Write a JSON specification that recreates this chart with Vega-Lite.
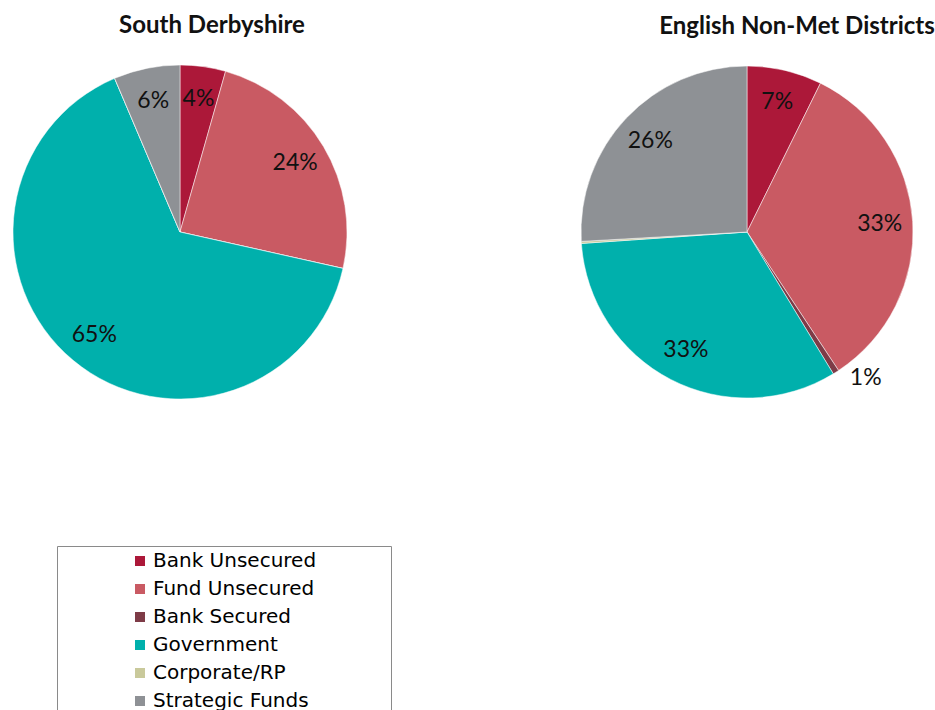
{
  "$schema": "https://vega.github.io/schema/vega-lite/v6.json",
  "background": "white",
  "padding": {"left": 0, "top": 14, "right": 0, "bottom": 0},
  "datasets": {
    "alloc": [
      {"area": "South Derbyshire", "type": "Bank Unsecured", "k": 1, "share": 0.044},
      {"area": "South Derbyshire", "type": "Fund Unsecured", "k": 2, "share": 0.241},
      {"area": "South Derbyshire", "type": "Bank Secured", "k": 3, "share": 0.0},
      {"area": "South Derbyshire", "type": "Government", "k": 4, "share": 0.651},
      {"area": "South Derbyshire", "type": "Corporate/RP", "k": 5, "share": 0.0},
      {"area": "South Derbyshire", "type": "Strategic Funds", "k": 6, "share": 0.064},
      {"area": "English Non-Met Districts", "type": "Bank Unsecured", "k": 1, "share": 0.073},
      {"area": "English Non-Met Districts", "type": "Fund Unsecured", "k": 2, "share": 0.334},
      {"area": "English Non-Met Districts", "type": "Bank Secured", "k": 3, "share": 0.006},
      {"area": "English Non-Met Districts", "type": "Government", "k": 4, "share": 0.326},
      {"area": "English Non-Met Districts", "type": "Corporate/RP", "k": 5, "share": 0.002},
      {"area": "English Non-Met Districts", "type": "Strategic Funds", "k": 6, "share": 0.259}
    ]
  },
  "config": {
    "view": {"stroke": null},
    "title": {"font": "Lato", "fontSize": 24, "fontWeight": "bold", "color": "#111", "baseline": "bottom", "offset": 26, "anchor": "middle"}
  },
  "spacing": 207,
  "resolve": {"scale": {"color": "shared", "theta": "independent"}},
  "hconcat": [
    {
      "width": 360,
      "height": 334,
      "title": {"text": "South Derbyshire", "dx": 32},
      "data": {"name": "alloc"},
      "transform": [
        {"filter": "datum.area === 'South Derbyshire'"},
        {"stack": "share", "groupby": [], "sort": [{"field": "k", "order": "ascending"}], "as": ["s0", "s1"]},
        {"calculate": "(datum.s0 + datum.s1) / 2", "as": "mid"},
        {"calculate": "format(datum.share, '.0%')", "as": "lbl"}
      ],
      "layer": [
        {
          "mark": {"type": "arc", "outerRadius": 167, "stroke": "white", "strokeWidth": 0.5},
          "encoding": {
            "theta": {"field": "s0", "type": "quantitative", "scale": {"domain": [0, 1]}},
            "theta2": {"field": "s1"},
            "color": {
              "field": "type", "type": "nominal",
              "scale": {
                "domain": ["Bank Unsecured", "Fund Unsecured", "Bank Secured", "Government", "Corporate/RP", "Strategic Funds"],
                "range": ["#AC1839", "#C95A63", "#7E3B47", "#00B0AC", "#C9C99B", "#8E9195"]
              },
              "legend": {
                "orient": "none", "legendX": 57, "legendY": 481,
                "title": "\u00a0", "titleOrient": "right", "titlePadding": 70, "titleFontSize": 4,
                "symbolType": "square", "symbolSize": 100, "symbolStrokeWidth": 0,
                "labelFont": "DejaVu Sans", "labelFontSize": 20, "labelColor": "#000", "labelLimit": 400,
                "labelOffset": 3, "rowPadding": 8, "padding": 5, "symbolOffset": 68,
                "strokeColor": "#8a8a8a", "fillColor": "white"
              }
            }
          }
        },
        {
          "transform": [{"filter": "datum.share >= 0.02"}],
          "mark": {"type": "text", "radius": 134, "font": "Lato", "fontSize": 23, "color": "#111"},
          "encoding": {
            "theta": {"field": "mid", "type": "quantitative", "scale": {"domain": [0, 1]}},
            "text": {"field": "lbl"}
          }
        }
      ]
    },
    {
      "width": 360,
      "height": 334,
      "title": {"text": "English Non-Met Districts", "dx": 50},
      "data": {"name": "alloc"},
      "transform": [
        {"filter": "datum.area === 'English Non-Met Districts'"},
        {"stack": "share", "groupby": [], "sort": [{"field": "k", "order": "ascending"}], "as": ["s0", "s1"]},
        {"calculate": "(datum.s0 + datum.s1) / 2", "as": "mid"},
        {"calculate": "format(datum.share, '.0%')", "as": "lbl"}
      ],
      "layer": [
        {
          "mark": {"type": "arc", "outerRadius": 166, "stroke": "white", "strokeWidth": 0.5},
          "encoding": {
            "theta": {"field": "s0", "type": "quantitative", "scale": {"domain": [0, 1]}},
            "theta2": {"field": "s1"},
            "color": {"field": "type", "type": "nominal"}
          }
        },
        {
          "transform": [{"filter": "datum.share >= 0.02"}],
          "mark": {"type": "text", "radius": 133, "font": "Lato", "fontSize": 23, "color": "#111"},
          "encoding": {
            "theta": {"field": "mid", "type": "quantitative", "scale": {"domain": [0, 1]}},
            "text": {"field": "lbl"}
          }
        },
        {
          "transform": [{"filter": "datum.share >= 0.005 && datum.share < 0.02"}],
          "mark": {"type": "text", "radius": 188, "font": "Lato", "fontSize": 23, "color": "#111", "dx": 18, "dy": -13},
          "encoding": {
            "theta": {"field": "mid", "type": "quantitative", "scale": {"domain": [0, 1]}},
            "text": {"field": "lbl"}
          }
        }
      ]
    }
  ]
}
